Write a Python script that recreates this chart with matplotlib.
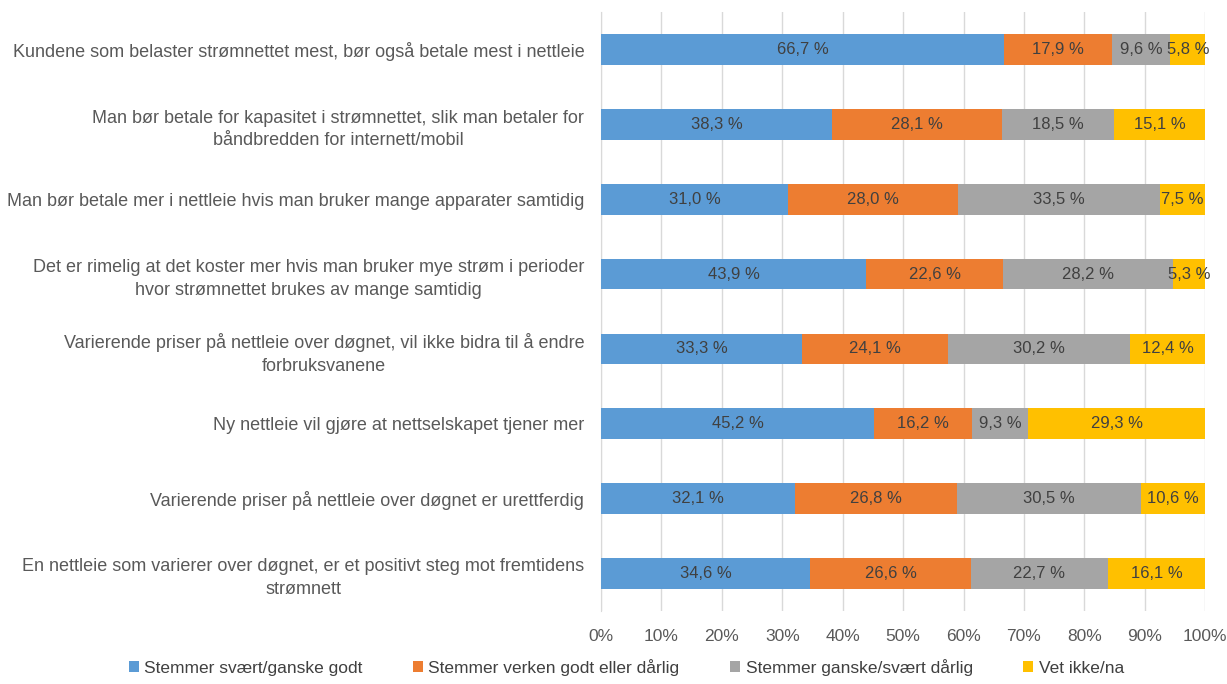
import numpy as np
import matplotlib.pyplot as plt
from matplotlib.ticker import FuncFormatter

plt.rcParams['font.family'] = ['Liberation Sans Narrow', 'Liberation Sans', 'DejaVu Sans']

categories = [
    'Kundene som belaster strømnettet mest, bør også betale mest i nettleie',
    'Man bør betale for kapasitet i strømnettet, slik man betaler for\nbåndbredden for internett/mobil',
    'Man bør betale mer i nettleie hvis man bruker mange apparater samtidig',
    'Det er rimelig at det koster mer hvis man bruker mye strøm i perioder\nhvor strømnettet brukes av mange samtidig',
    'Varierende priser på nettleie over døgnet, vil ikke bidra til å endre\nforbruksvanene',
    'Ny nettleie vil gjøre at nettselskapet tjener mer',
    'Varierende priser på nettleie over døgnet er urettferdig',
    'En nettleie som varierer over døgnet, er et positivt steg mot fremtidens\nstrømnett',
]
series_names = ['Stemmer svært/ganske godt', 'Stemmer verken godt eller dårlig',
                'Stemmer ganske/svært dårlig', 'Vet ikke/na']
godt = [66.7, 38.3, 31.0, 43.9, 33.3, 45.2, 32.1, 34.6]
verken = [17.9, 28.1, 28.0, 22.6, 24.1, 16.2, 26.8, 26.6]
darlig = [9.6, 18.5, 33.5, 28.2, 30.2, 9.3, 30.5, 22.7]
vet_ikke = [5.8, 15.1, 7.5, 5.3, 12.4, 29.3, 10.6, 16.1]
colors = ['#5B9BD5', '#ED7D31', '#A5A5A5', '#FFC000']

fig = plt.figure(figsize=(12.27, 6.84), dpi=100)
ax = fig.add_axes([0.4898, 0.107, 0.4925, 0.875])

y = np.arange(len(categories))
left = np.zeros(len(categories))
for name, vals, c in zip(series_names, [godt, verken, darlig, vet_ikke], colors):
    vals = np.array(vals)
    ax.barh(y, vals, left=left, height=0.41, color=c, label=name, zorder=3)
    for yi, l, v in zip(y, left, vals):
        ax.text(l + v / 2, yi, f'{v:.1f} %'.replace('.', ','), ha='center', va='center',
                fontsize=12, color='#404040', zorder=4)
    left += vals

ax.set_xlim(0, 100)
ax.set_ylim(len(categories) - 0.5, -0.5)
ax.set_xticks(np.arange(0, 101, 10))
ax.xaxis.set_major_formatter(FuncFormatter(lambda v, p: f'{int(v)}%'))
ax.set_yticks(y)
ax.set_yticklabels(categories, fontsize=13, color='#404040', multialignment='center',
                   linespacing=1.45)
ax.tick_params(axis='both', length=0, colors='#595959')
ax.tick_params(axis='x', labelsize=12.5, pad=13)
ax.tick_params(axis='y', pad=12)
ax.grid(axis='x', color='#D9D9D9', linewidth=1, zorder=0)
for s in ['top', 'right', 'bottom']:
    ax.spines[s].set_visible(False)
ax.spines['left'].set_color('#D9D9D9')

fig.legend(loc='center left', bbox_to_anchor=(0.092, 0.024), ncol=4, frameon=False,
           fontsize=12.5, handlelength=0.6, handleheight=0.6, handletextpad=0.3,
           columnspacing=2.9, labelcolor='#404040')

fig.savefig('out.png', dpi=100)
